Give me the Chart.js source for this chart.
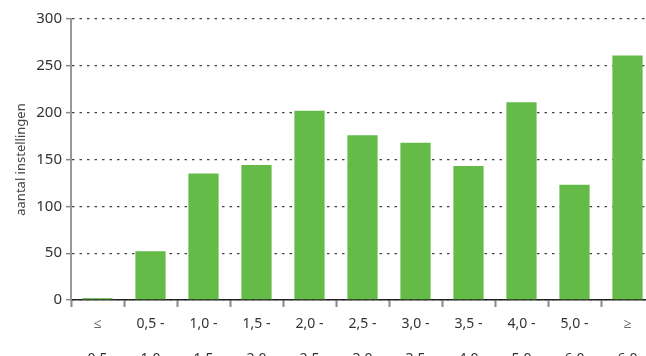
<!DOCTYPE html>
<html lang="nl">
<head>
  <meta charset="UTF-8" />
  <title>Aantal instellingen</title>
  <script src="https://cdn.jsdelivr.net/npm/chart.js"></script>
  <style>
    html, body {
      margin: 0;
      padding: 0;
      background: #fff;
      overflow: hidden;
    }
    #wrap {
      width: 654px;
      height: 377px;
    }
  </style>
</head>
<body>
<div id="wrap">
  <canvas id="barChart" width="654" height="377"></canvas>
</div>

<script>
  // klassen (x-as), twee regels per label
  const categories = [
    ["≤", "0,5"], ["0,5 -", "1,0"], ["1,0 -", "1,5"], ["1,5 -", "2,0"],
    ["2,0 -", "2,5"], ["2,5 -", "3,0"], ["3,0 -", "3,5"], ["3,5 -", "4,0"],
    ["4,0 -", "5,0"], ["5,0 -", "6,0"], ["≥", "6,0"]
  ];
  const counts = [2, 52, 135, 144, 202, 176, 168, 143, 211, 123, 261];
  const yTicks = [0, 50, 100, 150, 200, 250, 300];
  const yTitle = "aantal instellingen";

  const ctx = document.getElementById("barChart").getContext("2d");

  new Chart(ctx, {
    type: 'bar',
    data: {
      labels: categories,
      datasets: [{
        data: counts,
        backgroundColor: "#64bb48",
        barPercentage: 0.57,
        categoryPercentage: 1.0
      }]
    },
    options: {
      responsive: false,
      animation: false,
      layout: { padding: { top: 19, right: 0, bottom: 0, left: 0 } },
      plugins: {
        legend: { display: false },
        tooltip: { enabled: false }
      },
      scales: {
        x: {
          grid: {
            drawOnChartArea: false,
            drawTicks: true,
            tickLength: 7,
            tickColor: "#888",
            tickWidth: 2
          },
          border: { color: "#222", width: 1.5 },
          ticks: {
            color: "#333",
            padding: 0,
            maxRotation: 0,
            autoSkip: false,
            font: { family: "Noto Sans", size: 14, lineHeight: 2.5 }
          }
        },
        y: {
          min: yTicks[0],
          max: yTicks[yTicks.length - 1],
          afterBuildTicks: (scale) => { scale.ticks = yTicks.map(v => ({ value: v })); },
          afterFit: (scale) => { scale.width = 71; },
          grid: {
            color: "#444",
            lineWidth: 1.3,
            tickBorderDash: [],
            tickLength: 5,
            tickColor: "#888",
            tickWidth: 1.5
          },
          border: { color: "#999", width: 2, dash: [2.5, 5] },
          ticks: {
            color: "#333",
            padding: 4,
            font: { family: "Noto Sans", size: 15 }
          },
          title: {
            display: true,
            text: yTitle,
            color: "#444",
            padding: { top: 13, bottom: 0 },
            font: { family: "Noto Sans", size: 13 }
          }
        }
      }
    }
  });
</script>
</body>
</html>
